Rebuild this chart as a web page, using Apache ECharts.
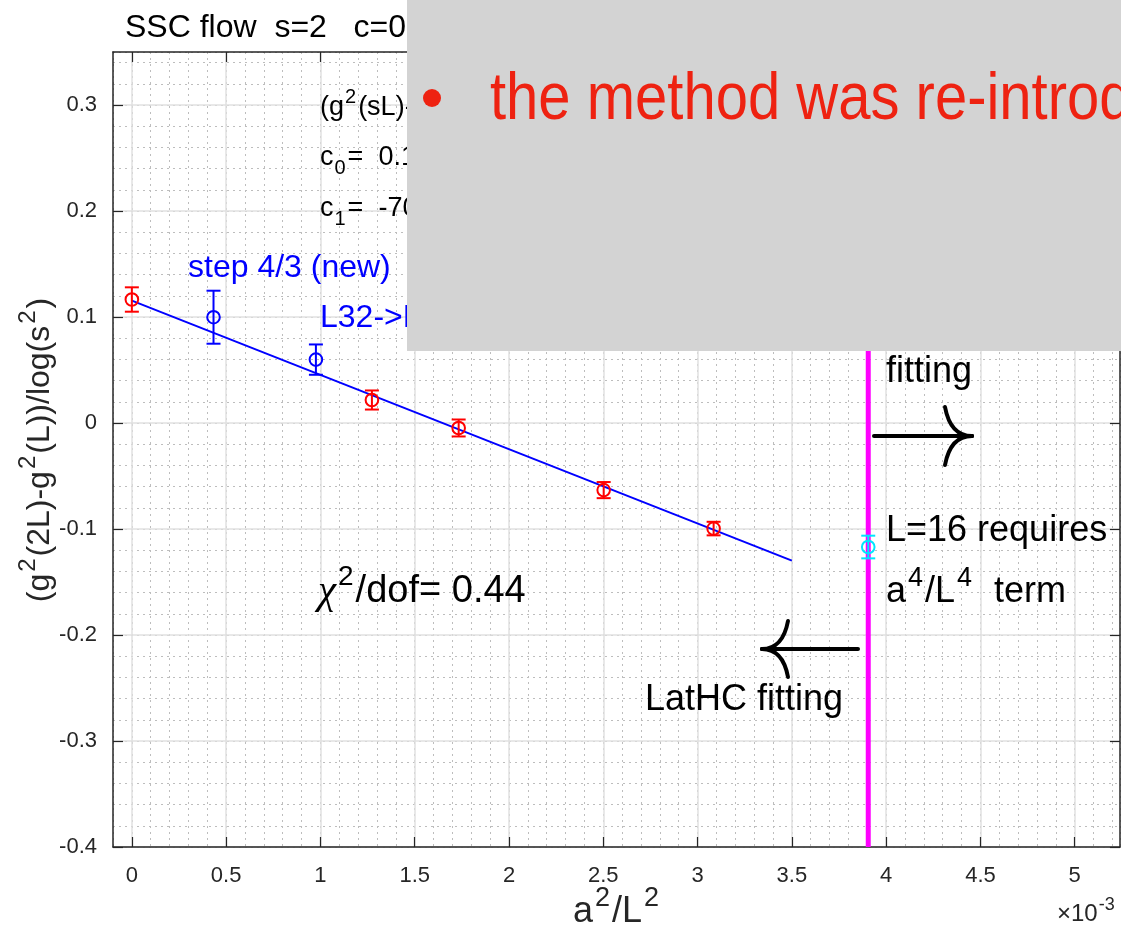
<!DOCTYPE html>
<html>
<head>
<meta charset="utf-8">
<script src="https://cdn.jsdelivr.net/npm/echarts@6/dist/echarts.min.js"></script>
<style>
  html, body { margin: 0; padding: 0; background: #ffffff; }
  #chart { width: 1121px; height: 932px; }
</style>
</head>
<body>
<div id="chart"></div>
<script>
// x values are a^2/L^2 in units of 1e-3

// LatHC points (red)
const lathcX   = [0, 1.273, 1.733, 2.502, 3.085];
const lathcY   = [0.1165, 0.0217, -0.0047, -0.0633, -0.0996];
const lathcErr = [0.0115, 0.0090, 0.0080, 0.0076, 0.0064];

// step 4/3 points (blue)
const stepX   = [0.433, 0.976];
const stepY   = [0.0998, 0.0598];
const stepErr = [0.0250, 0.0143];

// L=16 point (cyan)
const l16X   = [3.905];
const l16Y   = [-0.117];
const l16Err = [0.0107];

// linear fit c0 + c1*a^2/L^2, drawn over 0 .. 3.5e-3
const fitX = [0, 3.5];
const fitY = [0.1155, -0.1299];
const fitC1 = -70.1;
const chi2dof = 0.44;

// fit window boundary
const cutX = 3.905;

// axis ticks
const xTicks = [0, 0.5, 1, 1.5, 2, 2.5, 3, 3.5, 4, 4.5, 5];
const yTicks = [-0.4, -0.3, -0.2, -0.1, 0, 0.1, 0.2, 0.3];
const xRange = [-0.1, 5.24];
const yRange = [-0.4, 0.35];

const FF = '"Liberation Sans", Arial, Helvetica, sans-serif';
const AXIS_COLOR = '#262626';

const chart = echarts.init(document.getElementById('chart'), null, { renderer: 'canvas' });

function errorBarSeries(name, xs, ys, errs, color, z) {
  return {
    type: 'custom',
    name: name,
    z: z,
    clip: false,
    data: xs.map((x, i) => [x, ys[i], ys[i] - errs[i], ys[i] + errs[i]]),
    renderItem: function (params, api) {
      const c = api.coord([api.value(0), api.value(1)]);
      const lo = api.coord([api.value(0), api.value(2)]);
      const hi = api.coord([api.value(0), api.value(3)]);
      const hw = 7, r = 6.3;
      const st = { stroke: color, lineWidth: 2, fill: null };
      return {
        type: 'group',
        children: [
          { type: 'line', shape: { x1: c[0], y1: lo[1], x2: c[0], y2: hi[1] }, style: st },
          { type: 'line', shape: { x1: c[0] - hw, y1: lo[1], x2: c[0] + hw, y2: lo[1] }, style: st },
          { type: 'line', shape: { x1: c[0] - hw, y1: hi[1], x2: c[0] + hw, y2: hi[1] }, style: st },
          { type: 'circle', shape: { cx: c[0], cy: c[1], r: r }, style: { stroke: color, lineWidth: 2, fill: 'rgba(0,0,0,0)' } }
        ]
      };
    }
  };
}

function richStyles(F, color) {
  const H = Math.round(F * 1.5);
  const f = Math.round(F * 0.74);
  return {
    n:   { fontSize: F, fontFamily: FF, fill: color, lineHeight: H },
    sup: { fontSize: f, fontFamily: FF, fill: color, lineHeight: f, verticalAlign: 'top', padding: [0, Math.round(F * 0.06), 0, Math.round(F * 0.05)] },
    sub: { fontSize: f, fontFamily: FF, fill: color, lineHeight: f, verticalAlign: 'bottom', padding: [0, Math.round(F * 0.06), 0, Math.round(F * 0.04)] },
    chi: { fontSize: Math.round(F * 1.08), fontFamily: '"Liberation Serif", "DejaVu Serif", serif', fontStyle: 'italic', fill: color, lineHeight: H }
  };
}

function label(x, y, text, F, color, align, rotation) {
  return {
    type: 'text',
    x: x, y: y, z: 50,
    rotation: rotation || 0,
    silent: true,
    style: {
      text: text,
      fontSize: F,
      fontFamily: FF,
      fill: color,
      align: align || 'left',
      verticalAlign: 'middle',
      lineHeight: Math.round(F * 1.5),
      rich: richStyles(F, color)
    }
  };
}

// arrow with a curved head; the tip sits at x1
function arrow(x0, x1, y, headLen, headHalf) {
  const dir = x1 > x0 ? 1 : -1;
  const bx = x1 - dir * headLen;
  const cx = x1 - dir * headLen * 0.8;
  const st = { stroke: '#000000', lineWidth: 4, fill: null, lineCap: 'round' };
  return {
    type: 'group', z: 50, silent: true,
    children: [
      { type: 'line', z: 50, shape: { x1: x0, y1: y, x2: x1, y2: y }, style: st },
      { type: 'bezierCurve', z: 50, shape: { x1: bx, y1: y - headHalf, cpx1: cx, cpy1: y, x2: x1, y2: y }, style: st },
      { type: 'bezierCurve', z: 50, shape: { x1: bx, y1: y + headHalf, cpx1: cx, cpy1: y, x2: x1, y2: y }, style: st }
    ]
  };
}

const axisTickStyle = { show: true, inside: true, length: 10, lineStyle: { color: AXIS_COLOR, width: 1.2 } };
const majorGrid = { show: true, lineStyle: { color: '#e0e0e0', width: 1.5, type: 'solid' } };
const minorGrid = { show: true, lineStyle: { color: '#bdbdbd', width: 1, type: [2, 4] } };
const hiddenParts = { axisLine: { show: false }, axisTick: { show: false }, axisLabel: { show: false } };

const option = {
  animation: false,
  backgroundColor: '#ffffff',
  grid: { left: 113, right: 1, top: 52, bottom: 85, containLabel: false },
  xAxis: [
    {
      type: 'value', position: 'bottom', min: xRange[0], max: xRange[1], interval: 0.1, z: 3,
      axisLine: { show: true, onZero: false, lineStyle: { color: AXIS_COLOR, width: 1.5 } },
      axisTick: Object.assign({ customValues: xTicks }, axisTickStyle),
      axisLabel: {
        customValues: xTicks, margin: 18, fontSize: 22, fontFamily: FF, color: AXIS_COLOR,
        formatter: v => String(v)
      },
      splitLine: majorGrid
    },
    {
      type: 'value', position: 'top', min: xRange[0], max: xRange[1], interval: 0.1, z: 3,
      axisLine: { show: true, onZero: false, lineStyle: { color: AXIS_COLOR, width: 1.5 } },
      axisTick: Object.assign({ customValues: xTicks }, axisTickStyle),
      axisLabel: { show: false },
      splitLine: { show: false }
    },
    Object.assign({
      // minor grid every 0.1
      type: 'value', position: 'bottom', min: xRange[0], max: xRange[1], interval: 0.1, z: 1,
      splitLine: minorGrid
    }, hiddenParts)
  ],
  yAxis: [
    {
      type: 'value', position: 'left', min: yRange[0], max: yRange[1], interval: 0.02, z: 3,
      axisLine: { show: true, onZero: false, lineStyle: { color: AXIS_COLOR, width: 1.5 } },
      axisTick: Object.assign({ customValues: yTicks }, axisTickStyle),
      axisLabel: {
        customValues: yTicks, margin: 16, fontSize: 22, fontFamily: FF, color: AXIS_COLOR,
        formatter: v => String(v)
      },
      splitLine: majorGrid
    },
    {
      type: 'value', position: 'right', min: yRange[0], max: yRange[1], interval: 0.02, z: 3,
      axisLine: { show: true, onZero: false, lineStyle: { color: AXIS_COLOR, width: 1.5 } },
      axisTick: Object.assign({ customValues: yTicks }, axisTickStyle),
      axisLabel: { show: false },
      splitLine: { show: false }
    },
    Object.assign({
      // minor grid every 0.02
      type: 'value', position: 'left', min: yRange[0], max: yRange[1], interval: 0.02, z: 1,
      splitLine: minorGrid
    }, hiddenParts)
  ],
  series: [
    {
      type: 'line', name: 'fit', z: 3, symbol: 'none', silent: true,
      data: fitX.map((x, i) => [x, fitY[i]]),
      lineStyle: { color: '#0000ff', width: 2 }
    },
    {
      type: 'line', name: 'cut', z: 4, symbol: 'none', silent: true,
      data: [[cutX, yRange[0]], [cutX, yRange[1]]],
      lineStyle: { color: '#ff00ff', width: 5 }
    },
    errorBarSeries('LatHC', lathcX, lathcY, lathcErr, '#ff0000', 5),
    errorBarSeries('step 4/3', stepX, stepY, stepErr, '#0000ff', 5),
    errorBarSeries('L=16', l16X, l16Y, l16Err, '#00e5ff', 6)
  ],
  graphic: [
    label(125, 28, 'SSC flow  s=2   c=0.3', 32, '#000000'),
    label(320, 108, '{n|(g}{sup|2}{n|(sL)-g}{sup|2}{n|(L))/log(s}{sup|2}{n|) = c}{sub|0}{n| + c}{sub|1}{n| a}{sup|2}{n|/L}{sup|2}', 27, '#000000'),
    label(320, 158, '{n|c}{sub|0}{n|=  ' + fitY[0] + '}', 27, '#000000'),
    label(320, 209, '{n|c}{sub|1}{n|=  ' + fitC1 + '}', 27, '#000000'),
    label(188, 268, 'step 4/3 (new)', 32, '#0000ff'),
    label(320, 318, 'L32->L24', 32, '#0000ff'),
    label(318, 592, '{chi|χ}{sup|2}{n|/dof= ' + chi2dof + '}', 38, '#000000'),
    label(886, 372, 'fitting', 36, '#000000'),
    label(886, 531, 'L=16 requires', 36, '#000000'),
    label(886, 592, '{n|a}{sup|4}{n|/L}{sup|4}{n|  term}', 36, '#000000'),
    label(843, 700, 'LatHC fitting', 36, '#000000', 'right'),
    arrow(874, 972, 436, 27, 29),
    arrow(858, 762, 649, 26, 28),
    label(40, 450, '{n|(g}{sup|2}{n|(2L)-g}{sup|2}{n|(L))/log(s}{sup|2}{n|)}', 32, '#262626', 'center', Math.PI / 2),
    label(573, 912, '{n|a}{sup|2}{n|/L}{sup|2}', 36, '#262626'),
    label(1057, 914, '{n|×10}{sup|-3}', 24, '#262626'),
    {
      type: 'rect', z: 80, silent: true,
      shape: { x: 407, y: 0, width: 720, height: 351 },
      style: { fill: '#d3d3d3' }
    },
    {
      type: 'circle', z: 90, silent: true,
      shape: { cx: 432, cy: 98, r: 9 },
      style: { fill: '#ee2211' }
    },
    {
      type: 'text', z: 90, silent: true,
      x: 490, y: 101, scaleY: 1.14,
      style: {
        text: 'the method was re-introduced',
        fontSize: 58, fontFamily: FF, fill: '#ee2211',
        align: 'left', verticalAlign: 'middle'
      }
    }
  ]
};

chart.setOption(option);
</script>
</body>
</html>
